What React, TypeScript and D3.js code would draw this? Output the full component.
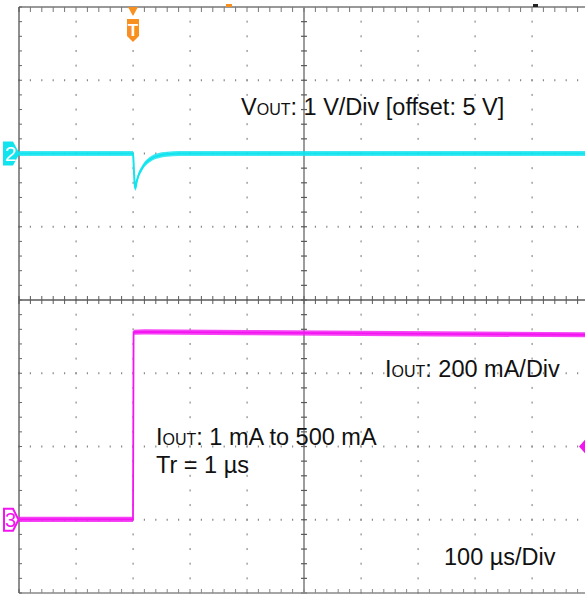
import React from "react";
import * as d3 from "d3";

// Time axis: µs relative to trigger (100 µs/div, 10 div)
const timeDomain = [-200, 800];
// Channel 2: VOUT deviation from 5 V offset (V), 1 V/div
const voutTime = [-200, 0, 1, 2, 3, 4, 5, 6, 8, 10, 13, 16, 20, 25, 30, 35, 40, 50, 60, 80, 800];
const voutVal = [0, 0, -0.12, -0.3, -0.42, -0.48, -0.45, -0.4, -0.34, -0.29, -0.24, -0.2, -0.15, -0.11, -0.08, -0.055, -0.04, -0.02, -0.01, 0, 0];
// Channel 3: IOUT (mA), 200 mA/div
const ioutTime = [-200, 0, 1, 20, 200, 400, 600, 800];
const ioutVal = [1, 1, 512, 513, 511, 509, 507, 505];

const ch2Offset = 2; // divisions above center
const ch3Offset = -3; // divisions below center
const ch2Scale = 1; // V/div
const ch3Scale = 200; // mA/div

const labels = [
  { main: "V", sub: "OUT", rest: ": 1 V/Div [offset: 5 V]", x: 241, y: 115 },
  { main: "I", sub: "OUT", rest: ": 200 mA/Div", x: 385, y: 377 },
  { main: "I", sub: "OUT", rest: ": 1 mA to 500 mA", x: 156, y: 445 },
  { main: "Tr = 1 µs", sub: "", rest: "", x: 156, y: 473 },
  { main: "100 µs/Div", sub: "", rest: "", x: 444, y: 565 },
];

export default function App() {
  const W = 585;
  const H = 594;
  const xDiv = d3.scaleLinear().domain([0, 10]).range([19, 589]);
  const yDiv = d3.scaleLinear().domain([-4, 4]).range([593, 7]);
  const xT = d3.scaleLinear().domain(timeDomain).range([xDiv(0), xDiv(10)]);
  const y2 = (v: number) => yDiv(ch2Offset + v / ch2Scale);
  const y3 = (i: number) => yDiv(ch3Offset + i / ch3Scale);

  const line2 = d3
    .line<number>()
    .x((_, k) => xT(voutTime[k]))
    .y((v) => y2(v))
    .curve(d3.curveMonotoneX);
  const band2 = d3
    .area<number>()
    .x((_, k) => xT(voutTime[k]))
    .y0((v) => y2(v) - 2.6)
    .y1((v) => y2(v) + 2.6)
    .curve(d3.curveMonotoneX);
  const line3 = d3
    .line<number>()
    .x((_, k) => xT(ioutTime[k]))
    .y((v) => y3(v));
  const band3 = d3
    .area<number>()
    .x((_, k) => xT(ioutTime[k]))
    .y0((v) => y3(v) - 2.6)
    .y1((v) => y3(v) + 2.6);

  const gridGray = "#8a8a8a";
  const minorX = d3.range(0, 51).map((k) => k / 5);
  const minorY = d3.range(-20, 21).map((k) => k / 5);
  const vDotted = [1, 2, 3, 4, 6, 7, 8, 9];
  const hDotted = [-3, -2, -1, 1, 2, 3];

  const cyan = "#10e4ee";
  const magenta = "#f414f2";
  const orange = "#f7901e";
  const trigX = xT(0);
  const font = "Liberation Sans, Arial, sans-serif";

  return (
    <svg width={W} height={H} style={{ display: "block", position: "absolute", left: 0, top: 0, background: "#fff" }}>
      <rect x={0} y={0} width={W} height={H} fill="#fff" />
      {/* dotted grid */}
      {vDotted.map((i) =>
        minorY.map((k) => (
          <rect key={`vd${i}_${k}`} x={xDiv(i) - 0.5} y={yDiv(k) - 1} width={1.2} height={2} fill={gridGray} />
        ))
      )}
      {hDotted.map((j) =>
        minorX.map((k) => (
          <rect key={`hd${j}_${k}`} x={xDiv(k) - 0.6} y={yDiv(j) - 1} width={1.2} height={2} fill={gridGray} />
        ))
      )}
      {/* center lines */}
      <line x1={xDiv(0)} x2={xDiv(10)} y1={yDiv(0)} y2={yDiv(0)} stroke="#5a5a5a" strokeWidth={1.6} />
      {minorX.map((k) => (
        <line key={`ct${k}`} x1={xDiv(k)} x2={xDiv(k)} y1={yDiv(0) - 4} y2={yDiv(0) + 4} stroke="#5a5a5a" strokeWidth={1} />
      ))}
      <line x1={xDiv(5)} x2={xDiv(5)} y1={yDiv(4)} y2={yDiv(-4)} stroke="#5a5a5a" strokeWidth={1.2} />
      {minorY.map((k) => (
        <line key={`cv${k}`} x1={xDiv(5) - 3} x2={xDiv(5) + 3} y1={yDiv(k)} y2={yDiv(k)} stroke="#5a5a5a" strokeWidth={1.2} />
      ))}
      {/* borders */}
      <line x1={xDiv(0)} x2={W} y1={yDiv(4)} y2={yDiv(4)} stroke="#999" strokeWidth={2.2} />
      {minorX.map((k) => (
        <line key={`tt${k}`} x1={xDiv(k)} x2={xDiv(k)} y1={yDiv(4)} y2={yDiv(4) + 5} stroke="#777" strokeWidth={1} />
      ))}
      <line x1={xDiv(0)} x2={W} y1={yDiv(-4)} y2={yDiv(-4)} stroke="#888" strokeWidth={1.5} />
      {minorX.map((k) => (
        <line key={`bt${k}`} x1={xDiv(k)} x2={xDiv(k)} y1={yDiv(-4)} y2={yDiv(-4) - 4} stroke="#888" strokeWidth={1} />
      ))}
      <line x1={xDiv(0)} x2={xDiv(0)} y1={yDiv(4)} y2={yDiv(-4)} stroke="#444" strokeWidth={1.2} />
      {minorY.map((k) => (
        <line key={`lt${k}`} x1={xDiv(0)} x2={xDiv(0) + 3} y1={yDiv(k)} y2={yDiv(k)} stroke="#666" strokeWidth={1} />
      ))}

      {/* small markers on top border */}
      <rect x={226} y={4} width={6} height={3} fill={orange} />
      <rect x={533} y={4} width={5} height={3} fill="#222" />

      {/* traces */}
      <path d={band2(voutVal) || ""} fill={cyan} fillOpacity={0.8} />
      <path d={line2(voutVal) || ""} fill="none" stroke={cyan} strokeWidth={2} />
      <path d={band3(ioutVal) || ""} fill={magenta} fillOpacity={0.8} />
      <path d={line3(ioutVal) || ""} fill="none" stroke={magenta} strokeWidth={1.8} />

      {/* trigger marker */}
      <path d={`M${trigX - 5},7 L${trigX + 5},7 L${trigX},16 Z`} fill={orange} />
      <path
        d={`M${trigX - 6},19 L${trigX + 6},19 L${trigX + 6},36 L${trigX},42 L${trigX - 6},36 Z`}
        fill={orange}
      />
      <text x={trigX} y={36} textAnchor="middle" fontFamily={font} fontSize={17} fontWeight="bold" fill="#fff">
        T
      </text>

      {/* channel 2 label */}
      <path
        d={`M3,${y2(0) - 12} L13,${y2(0) - 12} L19.5,${y2(0)} L13,${y2(0) + 12} L3,${y2(0) + 12} Z`}
        fill={cyan}
      />
      <text x={10.5} y={y2(0) + 7.5} textAnchor="middle" fontFamily={font} fontSize={21} fill="#fff">
        2
      </text>
      {/* channel 3 label */}
      <path
        d={`M4,${y3(0) - 11} L13,${y3(0) - 11} L18.5,${y3(0)} L13,${y3(0) + 11} L4,${y3(0) + 11} Z`}
        fill="#fff"
        stroke={magenta}
        strokeWidth={2}
      />
      <text x={10.5} y={y3(0) + 7} textAnchor="middle" fontFamily={font} fontSize={20} fill={magenta}>
        3
      </text>
      {/* magenta diamond on right */}
      <path d={`M579,${yDiv(-2)} L586,${yDiv(-2) - 8} L593,${yDiv(-2)} L586,${yDiv(-2) + 8} Z`} fill={magenta} />

      {/* annotations */}
      {labels.map((l, k) => (
        <text key={k} x={l.x} y={l.y} fontFamily={font} fontSize={23.5} fill="#111">
          {l.main}
          {l.sub && <tspan fontSize={16}>{l.sub}</tspan>}
          {l.rest}
        </text>
      ))}
    </svg>
  );
}
